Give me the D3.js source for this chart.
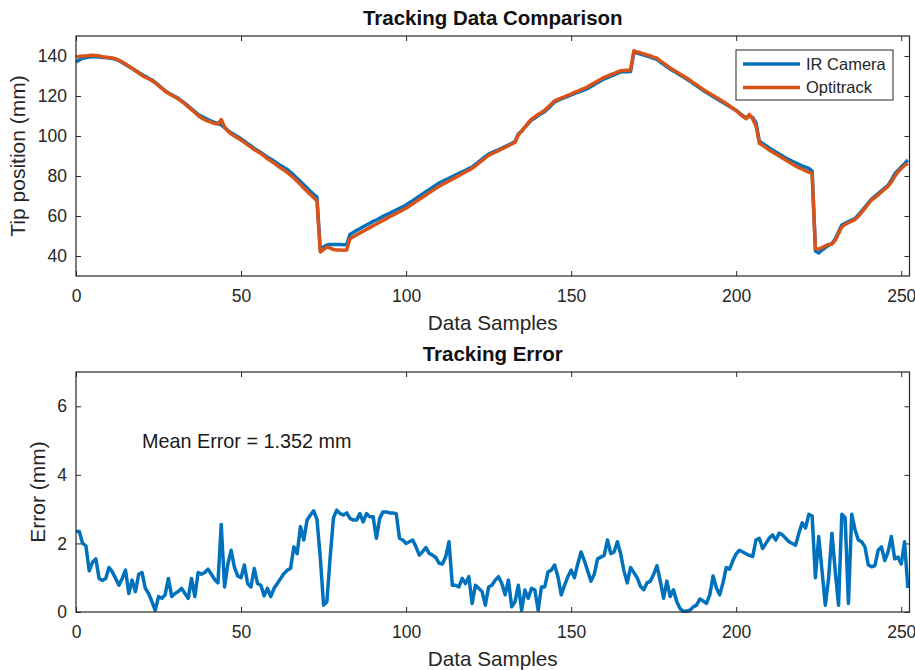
<!DOCTYPE html>
<html>
<head>
<meta charset="utf-8">
<script src="https://cdn.jsdelivr.net/npm/d3@7"></script>
<style>
  body { margin: 0; background: #fff; }
  svg { display: block; font-family: "Liberation Sans", Arial, Helvetica, sans-serif; }
  .tick text { fill: #262626; }
  .tick line { stroke: #262626; }
</style>
</head>
<body>
<svg width="915" height="670"></svg>
<script>
// values, one per data sample (0..252)
var irCamera = [
  137.0,138.0,138.8,139.2,139.5,139.6,139.6,139.5,139.3,139.2,
  139.0,138.8,138.4,137.6,136.8,135.8,134.8,133.8,132.8,131.8,
  130.8,129.8,128.9,128.0,126.8,125.4,124.0,122.7,121.5,120.6,
  119.7,118.8,117.6,116.3,115.0,113.6,112.2,110.8,109.8,109.0,
  108.2,107.4,106.8,106.3,105.5,104.2,102.8,101.6,100.6,99.6,
  98.6,97.4,96.2,95.0,93.8,92.8,91.8,90.6,89.4,88.5,
  87.4,86.3,85.2,84.2,83.2,81.8,80.4,78.8,77.2,75.6,
  74.0,72.4,70.8,69.5,43.0,44.5,45.5,45.8,45.8,45.7,
  45.7,45.6,45.6,50.8,51.8,52.8,53.6,54.6,55.5,56.4,
  57.3,58.0,58.9,59.8,60.6,61.4,62.2,63.0,63.8,64.6,
  65.5,66.6,67.7,68.8,69.9,71.0,72.1,73.2,74.3,75.4,
  76.5,77.3,78.1,78.9,79.7,80.5,81.3,82.1,82.9,83.7,
  84.5,85.8,87.1,88.4,89.7,91.0,91.7,92.4,93.1,93.9,
  94.7,95.5,96.3,97.2,101.0,102.5,104.3,106.2,108.0,109.0,
  110.2,111.2,112.2,113.8,115.4,117.0,117.8,118.5,119.2,119.8,
  120.5,121.2,121.8,122.5,123.1,123.8,124.8,125.7,126.7,127.6,
  128.5,129.2,129.9,130.6,131.3,132.0,132.1,132.1,132.2,142.0,
  141.5,141.0,140.5,140.0,139.4,138.8,138.3,137.0,135.8,134.6,
  133.5,132.5,131.5,130.5,129.5,128.5,127.4,126.2,125.1,123.9,
  122.8,121.8,120.8,119.8,118.8,117.8,116.8,115.8,114.8,113.8,
  112.8,111.5,110.2,109.0,110.0,109.2,106.5,97.5,96.3,95.2,
  94.0,93.0,92.0,91.0,90.0,89.0,88.2,87.4,86.6,85.8,
  85.0,84.4,83.8,82.5,42.5,41.5,43.0,44.2,45.3,46.2,
  48.5,52.0,55.5,56.4,57.2,58.0,58.7,60.5,62.5,64.5,
  66.5,68.5,69.8,71.2,72.6,74.0,75.3,78.0,81.0,82.8,
  84.5,86.2,88.0
];

var optitrack = [
  139.5,139.8,140.0,140.0,140.2,140.4,140.3,140.0,139.6,139.4,
  139.2,139.0,138.6,137.9,137.0,136.0,134.9,133.9,132.6,131.5,
  130.3,129.4,128.6,127.7,126.5,125.2,123.8,122.4,121.3,120.4,
  119.5,118.5,117.3,116.0,114.6,113.2,111.8,110.2,109.0,108.2,
  107.4,106.8,106.2,106.0,108.2,104.5,102.4,101.0,100.0,99.0,
  98.0,96.8,95.6,94.4,93.2,92.2,91.2,90.0,88.6,87.6,
  86.4,85.2,84.0,83.0,81.8,80.4,79.0,77.4,75.8,74.0,
  72.4,70.8,69.2,67.5,42.0,43.2,44.5,44.0,43.2,43.0,
  43.0,42.9,43.0,48.6,49.6,50.5,51.5,52.4,53.3,54.2,
  55.1,56.0,56.9,57.8,58.7,59.6,60.4,61.3,62.1,63.0,
  63.9,65.0,66.1,67.2,68.3,69.4,70.5,71.6,72.7,73.8,
  74.9,75.8,76.6,77.5,78.4,79.3,80.2,81.1,82.0,82.9,
  83.8,85.1,86.4,87.7,89.0,90.3,91.1,91.9,92.7,93.5,
  94.3,95.2,96.0,96.9,100.6,102.3,104.6,106.6,108.4,109.6,
  110.8,111.8,112.9,114.5,116.0,117.6,118.3,119.0,119.6,120.3,
  121.0,121.8,122.4,123.2,123.8,124.6,125.6,126.5,127.5,128.4,
  129.3,130.0,130.7,131.3,132.0,132.6,132.8,132.9,133.0,142.6,
  142.0,141.6,141.1,140.6,140.0,139.4,138.9,137.6,136.4,135.2,
  134.0,133.0,132.0,131.0,130.0,129.0,127.9,126.7,125.6,124.4,
  123.3,122.3,121.3,120.3,119.2,118.2,117.2,116.2,115.0,113.9,
  112.7,111.2,109.8,108.6,110.8,108.5,105.0,96.4,95.3,94.2,
  93.0,92.0,91.0,90.0,89.0,88.0,87.0,86.0,85.0,84.2,
  83.4,82.6,81.9,81.3,43.6,43.5,44.2,45.0,45.8,46.0,
  47.8,51.2,54.5,55.8,56.6,57.4,58.2,59.8,61.8,63.8,
  66.0,68.0,69.2,70.6,72.0,73.4,74.8,77.0,79.8,82.0,
  83.8,85.4,86.2
];

var trackingError = [
  2.35,2.35,2.0,1.93,1.2,1.45,1.55,0.98,0.92,0.98,
  1.3,1.17,0.98,0.78,0.98,1.22,0.54,0.93,0.59,1.1,
  1.15,0.69,0.54,0.3,0.05,0.45,0.4,0.5,0.98,0.45,
  0.54,0.6,0.69,0.54,0.4,0.98,0.45,1.15,1.1,1.15,
  1.25,1.1,0.95,0.85,2.55,0.73,1.4,1.8,1.3,1.05,
  1.0,1.37,0.83,0.73,1.27,0.83,0.78,0.47,0.69,0.45,
  0.69,0.83,0.98,1.12,1.22,1.27,1.9,1.7,2.49,2.1,
  2.68,2.83,2.95,2.7,1.6,0.2,0.3,1.6,2.75,2.97,
  2.87,2.83,2.89,2.73,2.68,2.68,2.87,2.63,2.87,2.78,
  2.78,2.15,2.73,2.92,2.92,2.89,2.89,2.87,2.15,2.1,
  2.0,2.05,2.1,1.9,1.66,1.76,1.88,1.71,1.66,1.59,
  1.42,1.4,1.61,2.05,0.78,0.78,0.73,0.98,0.83,1.03,
  0.25,0.78,0.69,0.6,0.2,0.73,0.78,0.93,1.03,0.83,
  0.5,0.93,0.15,0.3,0.78,0.05,0.64,0.4,0.69,0.64,
  0.05,0.73,0.73,1.17,1.22,1.37,1.03,0.5,0.78,1.03,
  1.22,1.0,1.4,1.75,1.5,1.2,0.9,1.1,1.55,1.6,
  1.65,2.1,1.7,1.75,2.05,1.7,1.2,0.85,1.3,1.15,
  1.0,0.75,0.65,0.85,0.9,1.1,1.35,0.9,0.4,0.9,
  0.45,0.65,0.3,0.1,0.02,0.03,0.05,0.15,0.2,0.38,
  0.32,0.25,0.5,1.05,0.7,0.5,0.85,1.3,1.25,1.5,
  1.7,1.8,1.75,1.7,1.65,1.62,2.1,2.15,1.85,2.0,
  2.15,2.25,2.1,2.3,2.25,2.15,2.05,2.0,1.95,2.3,
  2.6,2.45,2.85,2.8,1.0,2.2,1.2,0.2,1.0,2.3,
  1.2,0.2,2.85,2.75,0.25,2.85,2.4,2.1,2.05,1.9,
  1.38,1.32,1.35,1.8,1.9,1.5,1.75,2.2,1.55,1.6,
  1.4,2.05,0.7
];

var xTicks = [0, 50, 100, 150, 200, 250];
var posTicks = [40, 60, 80, 100, 120, 140];
var errTicks = [0, 2, 4, 6];
var seriesNames = ["IR Camera", "Optitrack"];
var meanErrorLabel = "Mean Error = 1.352 mm";

var blue = "#0072BD", orange = "#D95319", axisColor = "#262626";
var lineW = 3.5;

var svg = d3.select("svg");

var left = 76, right = 909.5;
var topBox = {y0: 36, y1: 276}, botBox = {y0: 372, y1: 612};

var x = d3.scaleLinear().domain([0, 252.5]).range([left, right]);
var yPos = d3.scaleLinear().domain([30, 150]).range([topBox.y1, topBox.y0]);
var yErr = d3.scaleLinear().domain([0, 7]).range([botBox.y1, botBox.y0]);

function drawAxes(y, box, yTicks) {
  var g = svg.append("g");

  g.append("g")
      .attr("transform", "translate(0," + box.y1 + ")")
      .call(d3.axisBottom(x).tickValues(xTicks).tickSize(-5).tickPadding(14).tickFormat(d3.format("d")))
      .style("font-size", "17.5px");
  g.append("g")
      .attr("transform", "translate(0," + box.y0 + ")")
      .call(d3.axisTop(x).tickValues(xTicks).tickSize(-5).tickFormat(""));
  g.append("g")
      .attr("transform", "translate(" + left + ",0)")
      .call(d3.axisLeft(y).tickValues(yTicks).tickSize(-5).tickPadding(9).tickFormat(d3.format("d")))
      .style("font-size", "17.5px");
  g.append("g")
      .attr("transform", "translate(" + right + ",0)")
      .call(d3.axisRight(y).tickValues(yTicks).tickSize(-5).tickFormat(""));

  g.selectAll(".domain").remove();
  g.selectAll("text").attr("font-family", null);

  return g;
}

function drawBox(box) {
  svg.append("rect")
      .attr("x", left)
      .attr("y", box.y0)
      .attr("width", right - left)
      .attr("height", box.y1 - box.y0)
      .attr("fill", "none")
      .attr("stroke", axisColor)
      .attr("stroke-width", 1.2);
}

// ---- top: tracking data
drawAxes(yPos, topBox, posTicks);

var linePos = function(values) {
  return d3.line()
      .x(function(d, i) { return x(i); })
      .y(function(d) { return yPos(d); })(values);
};

svg.append("path")
    .attr("d", linePos(irCamera))
    .attr("fill", "none")
    .attr("stroke", blue)
    .attr("stroke-width", lineW)
    .attr("stroke-linejoin", "round");

svg.append("path")
    .attr("d", linePos(optitrack))
    .attr("fill", "none")
    .attr("stroke", orange)
    .attr("stroke-width", lineW)
    .attr("stroke-linejoin", "round");

drawBox(topBox);

svg.append("text")
    .attr("x", (left + right) / 2)
    .attr("y", 25)
    .attr("text-anchor", "middle")
    .style("font-size", "20.5px")
    .style("font-weight", "bold")
    .attr("fill", "#111")
    .text("Tracking Data Comparison");

svg.append("text")
    .attr("x", (left + right) / 2)
    .attr("y", 330)
    .attr("text-anchor", "middle")
    .style("font-size", "20.7px")
    .attr("fill", axisColor)
    .text("Data Samples");

svg.append("text")
    .attr("transform", "translate(25," + (topBox.y0 + topBox.y1) / 2 + ") rotate(-90)")
    .attr("text-anchor", "middle")
    .style("font-size", "21px")
    .attr("fill", axisColor)
    .text("Tip position (mm)");

// legend
var legend = svg.append("g").attr("transform", "translate(736,50)");
legend.append("rect")
    .attr("width", 157)
    .attr("height", 50)
    .attr("fill", "#fff")
    .attr("stroke", axisColor)
    .attr("stroke-width", 1);

legend.selectAll(".entry")
    .data(seriesNames)
    .enter().append("g")
    .attr("class", "entry")
    .attr("transform", function(d, i) { return "translate(0," + (14 + i * 23.5) + ")"; })
    .each(function(d, i) {
      var e = d3.select(this);
      e.append("line")
          .attr("x1", 7).attr("x2", 64)
          .attr("stroke", i === 0 ? blue : orange)
          .attr("stroke-width", lineW);
      e.append("text")
          .attr("x", 70)
          .attr("dy", "0.36em")
          .style("font-size", "16.5px")
          .attr("fill", axisColor)
          .text(d);
    });

// ---- bottom: tracking error
drawAxes(yErr, botBox, errTicks);

svg.append("path")
    .attr("d", d3.line()
        .x(function(d, i) { return x(i); })
        .y(function(d) { return yErr(d); })(trackingError))
    .attr("fill", "none")
    .attr("stroke", blue)
    .attr("stroke-width", lineW)
    .attr("stroke-linejoin", "round");

drawBox(botBox);

svg.append("text")
    .attr("x", (left + right) / 2)
    .attr("y", 361)
    .attr("text-anchor", "middle")
    .style("font-size", "20.5px")
    .style("font-weight", "bold")
    .attr("fill", "#111")
    .text("Tracking Error");

svg.append("text")
    .attr("x", (left + right) / 2)
    .attr("y", 666)
    .attr("text-anchor", "middle")
    .style("font-size", "20.7px")
    .attr("fill", axisColor)
    .text("Data Samples");

svg.append("text")
    .attr("transform", "translate(45," + (botBox.y0 + botBox.y1) / 2 + ") rotate(-90)")
    .attr("text-anchor", "middle")
    .style("font-size", "21px")
    .attr("fill", axisColor)
    .text("Error (mm)");

svg.append("text")
    .attr("x", x(20))
    .attr("y", yErr(5))
    .attr("dy", "0.35em")
    .style("font-size", "19.8px")
    .attr("fill", "#1a1a1a")
    .text(meanErrorLabel);
</script>
</body>
</html>
